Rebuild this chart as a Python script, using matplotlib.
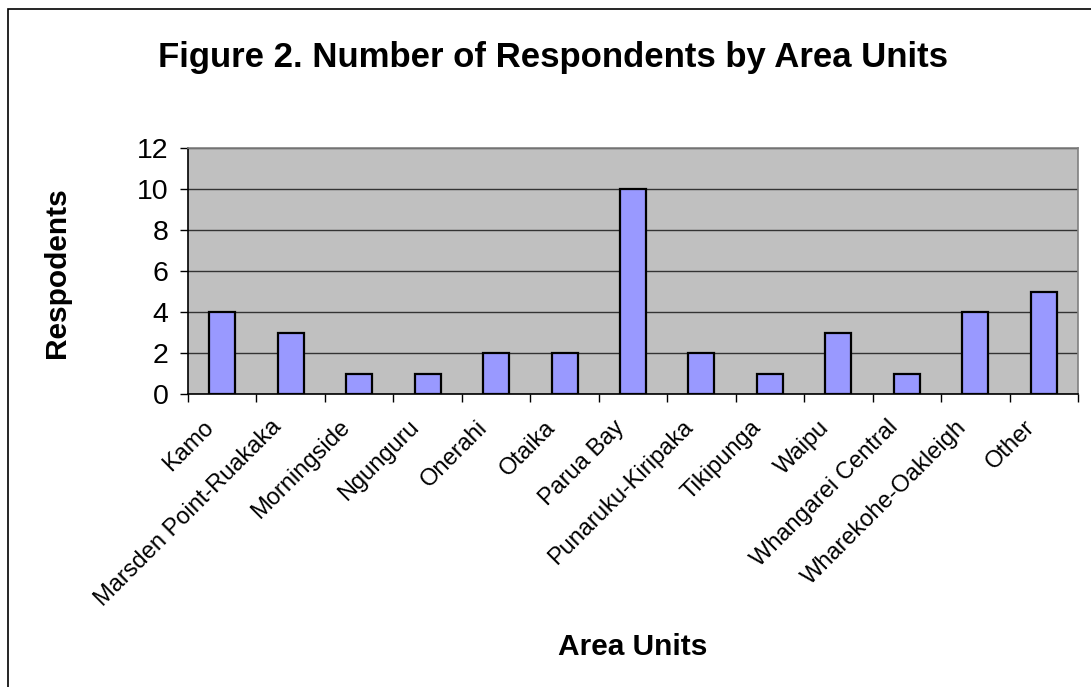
import numpy as np
import matplotlib.pyplot as plt
import matplotlib.transforms as mtransforms
from matplotlib.patches import Rectangle

plt.rcParams['font.family'] = ['Liberation Sans', 'DejaVu Sans']

areas = ['Kamo', 'Marsden Point-Ruakaka', 'Morningside', 'Ngunguru', 'Onerahi',
         'Otaika', 'Parua Bay', 'Punaruku-Kiripaka', 'Tikipunga', 'Waipu',
         'Whangarei Central', 'Wharekohe-Oakleigh', 'Other']
respondents = [4, 3, 1, 1, 2, 2, 10, 2, 1, 3, 1, 4, 5]
y_ticks = [0, 2, 4, 6, 8, 10, 12]

W, H = 1091, 687
fig = plt.figure(figsize=(W / 100, H / 100), dpi=100)
fig.patch.set_facecolor('white')

# outer chart border (runs off right/bottom edge like the source)
fig.patches.append(Rectangle((8 / W, -0.1), 1.2, 1 - 9 / H + 0.1,
                             transform=fig.transFigure, fill=False,
                             edgecolor='black', linewidth=1.2))

ax = fig.add_axes([188 / W, 1 - 394 / H, 890 / W, 246 / H])
ax.set_facecolor('#C0C0C0')

x = np.arange(len(areas))
ax.bar(x, respondents, width=0.38, color='#9999FF', edgecolor='black',
       linewidth=1.6, zorder=3)

ax.set_xlim(-0.5, len(areas) - 0.5)
ax.set_ylim(0, 12)
ax.set_yticks(y_ticks)
ax.set_yticklabels([str(v) for v in y_ticks], fontsize=20.5)
ax.yaxis.grid(True, color='#333333', linewidth=1, zorder=1)
ax.set_axisbelow(True)

ax.set_xticks(x)
ax.set_xticklabels(areas, rotation=45, ha='right', va='top',
                   rotation_mode='anchor', fontsize=17)
ax.set_xticks(np.arange(len(areas) + 1) - 0.5, minor=True)
ax.tick_params(axis='x', which='major', length=0, pad=16)
ax.tick_params(axis='x', which='minor', length=6, width=1, direction='out')
ax.tick_params(axis='y', length=6, width=1, direction='out', pad=8)

# nudge the slanted labels left so their ends sit left of the bar centres
shift = mtransforms.ScaledTranslation(-20 / 100, 0, fig.dpi_scale_trans)
for lbl in ax.get_xticklabels():
    lbl.set_transform(lbl.get_transform() + shift)

for s in ['top', 'right']:
    ax.spines[s].set_color('#808080')
    ax.spines[s].set_linewidth(1.2)
for s in ['left', 'bottom']:
    ax.spines[s].set_color('black')
    ax.spines[s].set_linewidth(1.2)

fig.text(57 / W, 1 - 273 / H, 'Respodents', rotation=90, fontsize=21.5,
         fontweight='bold', ha='center', va='center')
fig.text(633 / W, 1 - 647 / H, 'Area Units', fontsize=21.5,
         fontweight='bold', ha='center', va='center')
fig.text(553 / W, 1 - 57 / H, 'Figure 2. Number of Respondents by Area Units',
         fontsize=25, fontweight='bold', ha='center', va='center')

fig.savefig('out.png', dpi=100)
